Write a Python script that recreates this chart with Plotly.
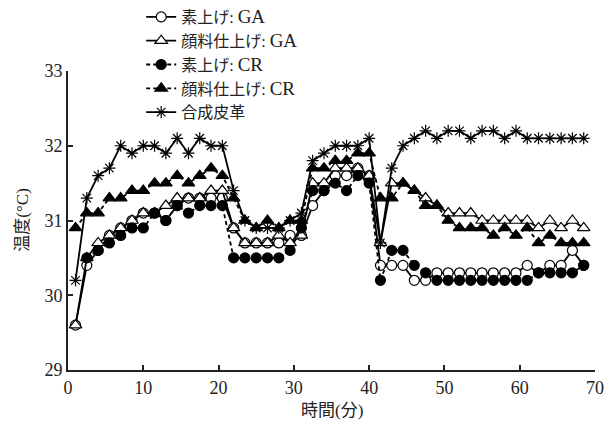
import plotly.graph_objects as go

# time points (minutes)
time_min = [1 + 1.5 * i for i in range(46)]

ga_plain = [29.6, 30.4, 30.6, 30.8, 30.9, 31.0, 31.1, 31.1, 31.0, 31.2,
            31.3, 31.3, 31.3, 31.3, 30.9, 30.7, 30.7, 30.7, 30.7, 30.8,
            30.8, 31.2, 31.4, 31.6, 31.6, 31.7, 31.6, 30.4, 30.4, 30.4,
            30.2, 30.2, 30.3, 30.3, 30.3, 30.3, 30.3, 30.3, 30.3, 30.3,
            30.4, 30.3, 30.4, 30.4, 30.6, 30.4]
ga_pigment = [29.6, 30.5, 30.7, 30.8, 30.9, 31.0, 31.1, 31.1, 31.2, 31.3,
              31.3, 31.3, 31.4, 31.4, 30.9, 30.7, 30.7, 30.7, 30.8, 30.7,
              30.8, 31.5, 31.5, 31.7, 31.7, 31.7, 31.6, 30.7, 31.5, 31.5,
              31.4, 31.3, 31.2, 31.1, 31.1, 31.1, 31.0, 31.0, 31.0, 31.0,
              31.0, 30.9, 31.0, 30.9, 31.0, 30.9]
cr_plain = [None, 30.5, 30.6, 30.7, 30.8, 30.9, 30.9, 31.1, 31.0, 31.2,
            31.1, 31.2, 31.2, 31.2, 30.5, 30.5, 30.5, 30.5, 30.5, 30.6,
            30.9, 31.4, 31.4, 31.5, 31.4, 31.6, 31.5, 30.2, 30.6, 30.6,
            30.4, 30.3, 30.2, 30.2, 30.2, 30.2, 30.2, 30.2, 30.2, 30.2,
            30.2, 30.3, 30.3, 30.3, 30.3, 30.4]
cr_pigment = [30.9, 31.1, 31.1, 31.3, 31.3, 31.4, 31.4, 31.5, 31.5, 31.6,
              31.5, 31.6, 31.7, 31.6, 31.3, 31.0, 30.9, 31.0, 30.9, 31.0,
              31.0, 31.7, 31.7, 31.8, 31.8, 31.9, 31.9, 31.3, 31.3, 31.5,
              31.4, 31.2, 31.2, 31.0, 30.9, 30.9, 30.9, 30.8, 30.9, 30.8,
              30.9, 30.7, 30.8, 30.7, 30.7, 30.7]
synthetic = [30.2, 31.3, 31.6, 31.7, 32.0, 31.9, 32.0, 32.0, 31.9, 32.1,
             31.9, 32.1, 32.0, 32.0, 31.4, 31.0, 30.9, 30.9, 30.9, 31.0,
             31.1, 31.8, 31.9, 32.0, 32.0, 32.0, 32.1, 30.7, 31.7, 32.0,
             32.1, 32.2, 32.1, 32.2, 32.2, 32.1, 32.2, 32.2, 32.1, 32.2,
             32.1, 32.1, 32.1, 32.1, 32.1, 32.1]

names = ["素上げ: <span style='font-size:19px'>GA</span>",
         "顔料仕上げ: <span style='font-size:19px'>GA</span>",
         "素上げ: <span style='font-size:19px'>CR</span>",
         "顔料仕上げ: <span style='font-size:19px'>CR</span>",
         "合成皮革"]
x_title = "時間(分)"
y_title = "温度(°C)"

FONT = "Liberation Serif, Noto Sans CJK JP, serif"

fig = go.Figure()

def add(y, name, symbol, fill, dash, size):
    fig.add_trace(go.Scatter(
        x=time_min, y=y, name=name, mode="lines+markers",
        line=dict(color="black", width=1.8, dash=dash),
        marker=dict(symbol=symbol, size=size, color=fill,
                    line=dict(color="black", width=1.2)),
        connectgaps=False,
    ))

add(ga_plain, names[0], "circle", "white", "solid", 10)
add(ga_pigment, names[1], "triangle-up", "white", "solid", 11)
add(cr_plain, names[2], "circle", "black", "4px,3px", 10)
add(cr_pigment, names[3], "triangle-up", "black", "4px,3px", 11)
fig.add_trace(go.Scatter(
    x=time_min, y=synthetic, name=names[4], mode="lines+markers",
    line=dict(color="black", width=1.8),
    marker=dict(symbol="asterisk-open", size=10, color="black",
                line=dict(color="black", width=1.2)),
))

fig.update_layout(
    width=606, height=434,
    margin=dict(l=68, r=11, t=71, b=64, autoexpand=False),
    paper_bgcolor="white", plot_bgcolor="white",
    font=dict(family=FONT, size=18, color="#222"),
    showlegend=True,
    legend=dict(x=0.233, y=1.0, xref="container", yref="container",
                xanchor="left", yanchor="top",
                bgcolor="rgba(0,0,0,0)", font=dict(size=16),
                tracegroupgap=0),
    xaxis=dict(range=[0, 70], tickvals=[0, 10, 20, 30, 40, 50, 60, 70],
               showline=True, linecolor="#222", linewidth=2,
               ticks="inside", ticklen=5, tickcolor="#222", tickwidth=1.5,
               showgrid=False, zeroline=False, automargin=False),
    yaxis=dict(range=[29, 33], tickvals=[29, 30, 31, 32, 33],
               showline=True, linecolor="#222", linewidth=2,
               ticks="inside", ticklen=5, tickcolor="#222", tickwidth=1.5,
               showgrid=False, zeroline=False, automargin=False),
    annotations=[
        dict(text=x_title, xref="paper", yref="paper", x=0.5, y=-0.135,
             xanchor="center", yanchor="middle", showarrow=False,
             font=dict(size=17)),
        dict(text=y_title, xref="paper", yref="paper", x=-0.087, y=0.5,
             xanchor="center", yanchor="middle", showarrow=False,
             textangle=-90, font=dict(size=17)),
    ],
)

fig.write_html("out.html")
